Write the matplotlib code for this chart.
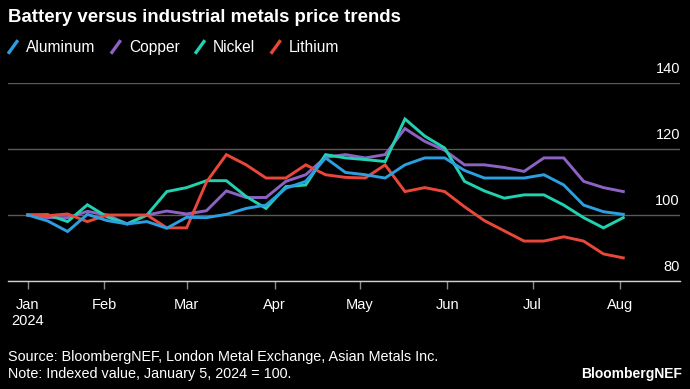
import matplotlib
matplotlib.use('Agg')
import matplotlib.pyplot as plt, matplotlib.dates as mdates, numpy as np, pandas as pd
from matplotlib.legend_handler import HandlerBase
from matplotlib.lines import Line2D
from matplotlib.transforms import ScaledTranslation

# weekly index values, Jan 5 2024 = 100
dates = pd.date_range('2024-01-05', periods=31, freq='7D')
aluminum = [100, 98.2, 95.0, 100.2, 98.3, 97.3, 98.0, 96.0, 99.3, 99.2, 100.2, 102.0, 103.0,
            108.1, 110.2, 117.3, 112.9, 112.2, 111.2, 115.2, 117.3, 117.3, 113.5, 111.2,
            111.2, 111.2, 112.2, 109.1, 103.0, 101.0, 100.2]
copper = [100, 99.2, 99.2, 101.1, 100.0, 97.3, 100.0, 101.2, 100.3, 101.3, 107.3, 105.3, 105.3,
          110.2, 112.2, 117.5, 118.3, 117.3, 118.3, 126.2, 122.3, 119.6, 115.2, 115.2,
          114.4, 113.2, 117.3, 117.3, 110.2, 108.3, 107.1]
nickel = [100, 100.1, 98.0, 103.1, 99.4, 97.3, 100.0, 107.1, 108.3, 110.4, 110.4, 105.6, 102.0,
          108.6, 109.1, 118.3, 117.3, 116.8, 116.2, 129.1, 123.9, 120.3, 110.2, 107.3,
          105.1, 106.1, 106.1, 103.0, 99.2, 96.1, 99.2]
lithium = [100, 99.8, 100.3, 98.0, 100.0, 100.0, 100.0, 96.1, 96.1, 110.0, 118.3, 115.2, 111.2,
           111.2, 115.2, 112.2, 111.4, 111.2, 115.2, 107.1, 108.3, 107.1, 102.5, 98.3,
           95.2, 92.1, 92.1, 93.4, 92.1, 88.2, 87.0]
series = [('Aluminum', aluminum, '#2b9fe0'), ('Copper', copper, '#8d62c2'),
          ('Nickel', nickel, '#21d2b1'), ('Lithium', lithium, '#e8473a')]
tick_dates = pd.to_datetime(['2024-01-05', '2024-02-01', '2024-03-01', '2024-04-01',
                             '2024-05-01', '2024-06-01', '2024-07-01', '2024-08-01'])
tick_labels = ['Jan\n2024', 'Feb', 'Mar', 'Apr', 'May', 'Jun', 'Jul', 'Aug']
yticks = [80, 100, 120, 140]

class SlashHandler(HandlerBase):
    def create_artists(self, legend, orig_handle, xdescent, ydescent, width, height, fontsize, trans):
        ln = Line2D([-xdescent + 0.15 * width, -xdescent + 0.85 * width],
                    [-ydescent - 0.05 * height, -ydescent + 1.0 * height],
                    color=orig_handle.get_color(), lw=2.4, solid_capstyle='butt', transform=trans)
        return [ln]

plt.rcParams['font.family'] = ['Liberation Sans', 'DejaVu Sans']
fig = plt.figure(figsize=(6.9, 3.89), dpi=100, facecolor='black')
ax = fig.add_axes([8/690, 1 - 281/389, 672/690, 198/389], facecolor='black')

handles = []
for name, vals, col in series:
    h, = ax.plot(dates, vals, color=col, lw=2.1, label=name, solid_joinstyle='miter')
    handles.append(h)
# aluminum sits on top in the reference
handles[0].set_zorder(5)

ax.set_xlim(pd.Timestamp('2023-12-29'), pd.Timestamp('2024-08-22'))
ax.set_ylim(80, 140)
ax.set_xticks(tick_dates)
ax.set_xticklabels(tick_labels)
ax.set_yticks(yticks)
ax.set_yticklabels([str(v) for v in yticks])
ax.yaxis.tick_right()
ax.tick_params(axis='y', length=0, pad=0, colors='white', labelsize=10.5)
ax.tick_params(axis='x', length=6, width=1, color='#8a8a8a', colors='white', labelsize=10.5, pad=6)
for lbl in ax.get_yticklabels():
    lbl.set_horizontalalignment('right')
    lbl.set_verticalalignment('bottom')
    lbl.set_transform(lbl.get_transform() + ScaledTranslation(0, 5/72, fig.dpi_scale_trans))
ax.grid(axis='y', color='#5a5a5a', lw=1)
ax.set_axisbelow(True)
for s in ['top', 'left', 'right']:
    ax.spines[s].set_visible(False)
ax.spines['bottom'].set_color('#d0d0d0')
ax.spines['bottom'].set_linewidth(1)

fig.text(8/690, 1 - 17/389, 'Battery versus industrial metals price trends', color='white',
         fontsize=13.4, fontweight='bold', va='center', ha='left')
fig.legend(handles=handles, loc='upper left', bbox_to_anchor=(6/690, 1 - 40/389), ncol=4,
           frameon=False, fontsize=11.2, labelcolor='white', handlelength=0.9, handleheight=0.9,
           handletextpad=0.4, columnspacing=0.85, borderpad=0, borderaxespad=0,
           handler_map={Line2D: SlashHandler()})

fig.text(8/690, 1 - 357/389, 'Source: BloombergNEF, London Metal Exchange, Asian Metals Inc.',
         color='white', fontsize=10.4, va='center', ha='left')
fig.text(8/690, 1 - 374/389, 'Note: Indexed value, January 5, 2024 = 100.',
         color='white', fontsize=10.4, va='center', ha='left')
fig.text(682/690, 1 - 374/389, 'BloombergNEF', color='white', fontsize=10,
         fontweight='bold', va='center', ha='right')

fig.savefig('out.png', dpi=100, facecolor='black')
